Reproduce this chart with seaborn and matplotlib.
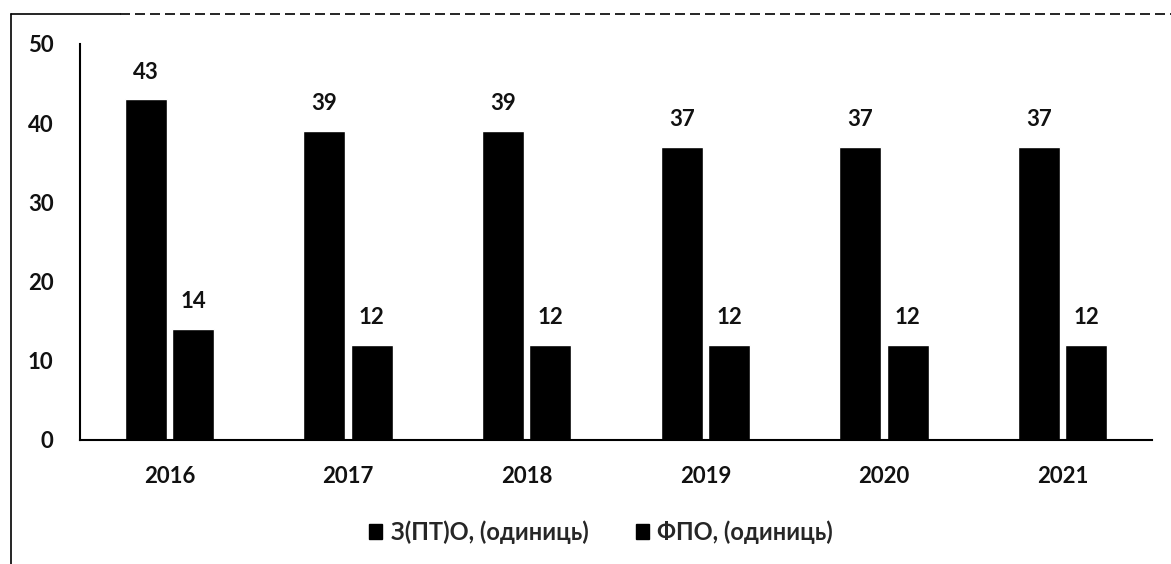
import matplotlib
matplotlib.use("Agg")
import matplotlib.pyplot as plt
from matplotlib.patches import Patch
from matplotlib.lines import Line2D
import seaborn as sns
import pandas as pd

years = ["2016", "2017", "2018", "2019", "2020", "2021"]
series_names = ["З(ПТ)О, (одиниць)", "ФПО, (одиниць)"]
zpto_values = [43, 39, 39, 37, 37, 37]
fpo_values = [14, 12, 12, 12, 12, 12]
y_ticks = [0, 10, 20, 30, 40, 50]

df = pd.DataFrame({
    "year": years * 2,
    "series": [series_names[0]] * len(years) + [series_names[1]] * len(years),
    "value": zpto_values + fpo_values,
})

sns.set_theme(style="white")
plt.rcParams["font.family"] = ["Lato", "DejaVu Sans"]
plt.rcParams["font.weight"] = "bold"

fig = plt.figure(figsize=(11.71, 5.64), dpi=100)
ax = fig.add_axes([80 / 1171, 1 - 440 / 564, (1152 - 80) / 1171, (440 - 44) / 564])

sns.barplot(data=df, x="year", y="value", hue="series", order=years,
            hue_order=series_names, palette=["#000000", "#000000"],
            width=0.53, gap=0.11, ax=ax, legend=False, saturation=1)

for cont in ax.containers:
    ax.bar_label(cont, padding=12, fontsize=16, fontweight="bold", color="#111111")

ax.set_ylim(0, 50)
ax.set_yticks(y_ticks)
ax.set_xlabel("")
ax.set_ylabel("")
ax.tick_params(axis="both", length=0, labelsize=16, colors="#111111")
ax.tick_params(axis="y", pad=19)
ax.tick_params(axis="x", pad=19)
for lbl in ax.get_xticklabels() + ax.get_yticklabels():
    lbl.set_fontweight("bold")
for side in ["top", "right"]:
    ax.spines[side].set_visible(False)
for side in ["left", "bottom"]:
    ax.spines[side].set_visible(True)
    ax.spines[side].set_color("#000000")
    ax.spines[side].set_linewidth(1.5)

handles = [Patch(facecolor="#000000", edgecolor="#000000", label=n) for n in series_names]
fig.legend(handles=handles, loc="center", bbox_to_anchor=(601 / 1171, 1 - 532 / 564),
           ncol=2, frameon=False, handlelength=0.55, handleheight=0.55,
           handletextpad=0.35, columnspacing=2.0,
           prop={"weight": "bold", "size": 17})

# outer frame (scanned border)
fig.add_artist(Line2D([11 / 1171, 11 / 1171], [0, 1 - 14 / 564], color="#000000",
                      linewidth=1.2, transform=fig.transFigure))
fig.add_artist(Line2D([11 / 1171, 120 / 1171], [1 - 14 / 564, 1 - 14 / 564], color="#000000",
                      linewidth=1.2, transform=fig.transFigure))
fig.add_artist(Line2D([120 / 1171, 1.0], [1 - 14 / 564, 1 - 14 / 564], color="#000000",
                      linewidth=1.2, linestyle=(0, (6, 3)), transform=fig.transFigure))

fig.savefig("out.png", dpi=100)
